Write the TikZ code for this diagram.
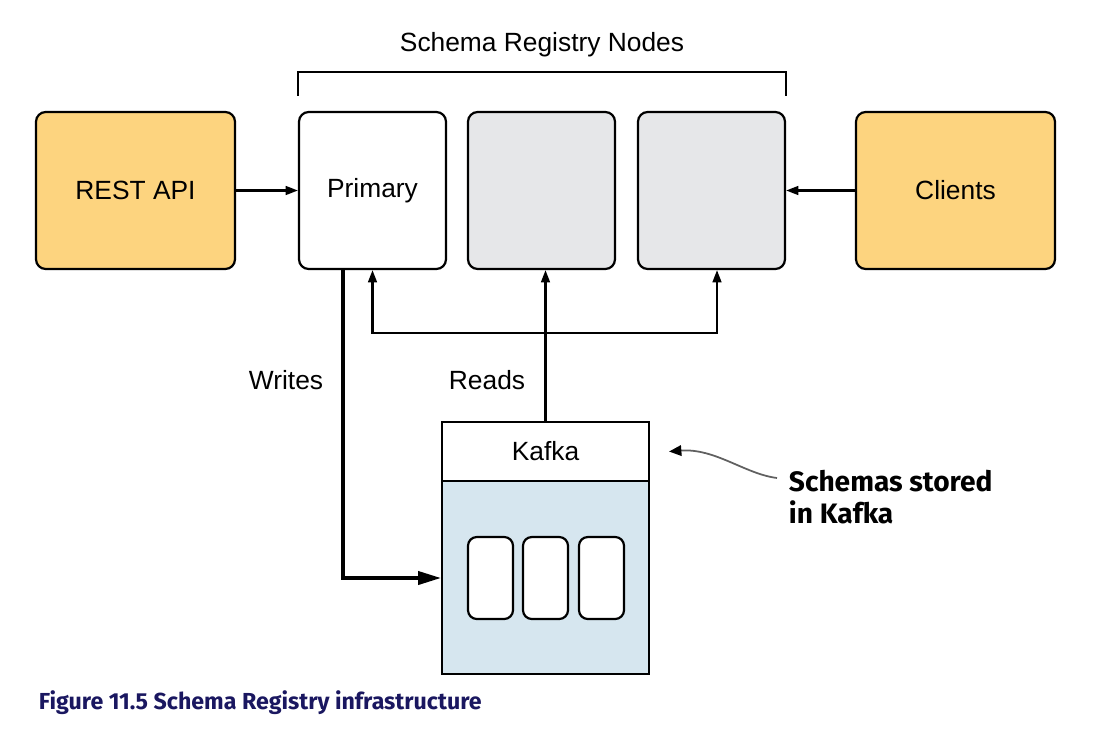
\documentclass[tikz,border=0pt]{standalone}
\usepackage{fontspec}
\setmainfont{Liberation Sans}
\newfontfamily\notefont{Fira Sans}
\usetikzlibrary{arrows.meta}
\definecolor{apiorange}{HTML}{FDD47F}
\definecolor{nodegray}{HTML}{E6E7E9}
\definecolor{kafkablue}{HTML}{D6E6EF}
\definecolor{capnavy}{HTML}{1A1760}
\begin{document}
\begin{tikzpicture}[x=0.02cm,y=-0.02cm,line width=1.25pt,
  box/.style={draw,rounded corners=5.5pt,minimum height=3.14cm,font=\fontsize{15}{18}\selectfont},
  ext/.style={box,fill=apiorange,minimum width=3.98cm},
  reg/.style={box,minimum width=2.94cm},
  arr/.style={-{Triangle[length=7pt,width=5pt]}},
  lbl/.style={font=\fontsize{15}{18}\selectfont}]
\useasboundingbox (0,0) rectangle (1118,744);

% outer systems and registry nodes
\node[ext] (rest) at (135.5,190.5) {REST API};
\node[reg] (primary) at (372.5,190.5) {Primary};
\node[reg,fill=nodegray] (second) at (541.5,190.5) {};
\node[reg,fill=nodegray] (third) at (711.5,190.5) {};
\node[ext] (clients) at (955.5,190.5) {Clients};

% bracket with title
\draw ([yshift=0.3cm]primary.north west) -- ++(0,0.48cm) -| ([yshift=0.3cm]third.north east);
\node[lbl] (title) at (542,45) {Schema Registry Nodes};

\draw[arr] (rest) -- (primary);
\draw[arr] (clients) -- (third);

% kafka
\node[draw,fill=kafkablue,minimum width=4.14cm,minimum height=5.04cm] (kafka) at (545.5,548) {};
\node[draw,fill=white,minimum width=4.14cm,minimum height=1.18cm,lbl] (kafkahead) at (545.5,451.5) {Kafka};
\foreach \x/\n in {490.5/1,545.5/2,601.5/3}
  \node[draw,fill=white,rounded corners=5pt,minimum width=0.9cm,minimum height=1.64cm] (slot\n) at (\x,578) {};

% writes and reads
\draw[line width=1.9pt,-{Triangle[length=13pt,width=7.5pt]}] ([xshift=-0.59cm]primary.south) |- (kafka.west |- slot2);
\node[lbl] (writes) at (286,380) {Writes};
\coordinate (split) at (546,333);
\draw[arr] (kafka.north) -- (kafka.north |- second.south);
\draw[arr] (split) -| (primary.south);
\draw[arr] (split) -| ([xshift=0.11cm]third.south);
\node[lbl] (reads) at (487,380) {Reads};

% callout
\node[anchor=west,align=left,font=\notefont\bfseries\fontsize{16}{18}\selectfont] (note) at (782,497) {Schemas stored\\in Kafka};
\coordinate (notetail) at (777,478);
\draw[gray!75!black,line width=1pt,-{Triangle[length=7pt,width=6pt,color=black]}] (notetail) .. controls (745,474) and (715,448) .. ([xshift=0.38cm]kafkahead.east);

% caption
\node[anchor=west,text=capnavy,font=\notefont\bfseries\fontsize{13.2}{15}\selectfont] (caption) at (32,703) {Figure 11.5 Schema Registry infrastructure};
\end{tikzpicture}
\end{document}
